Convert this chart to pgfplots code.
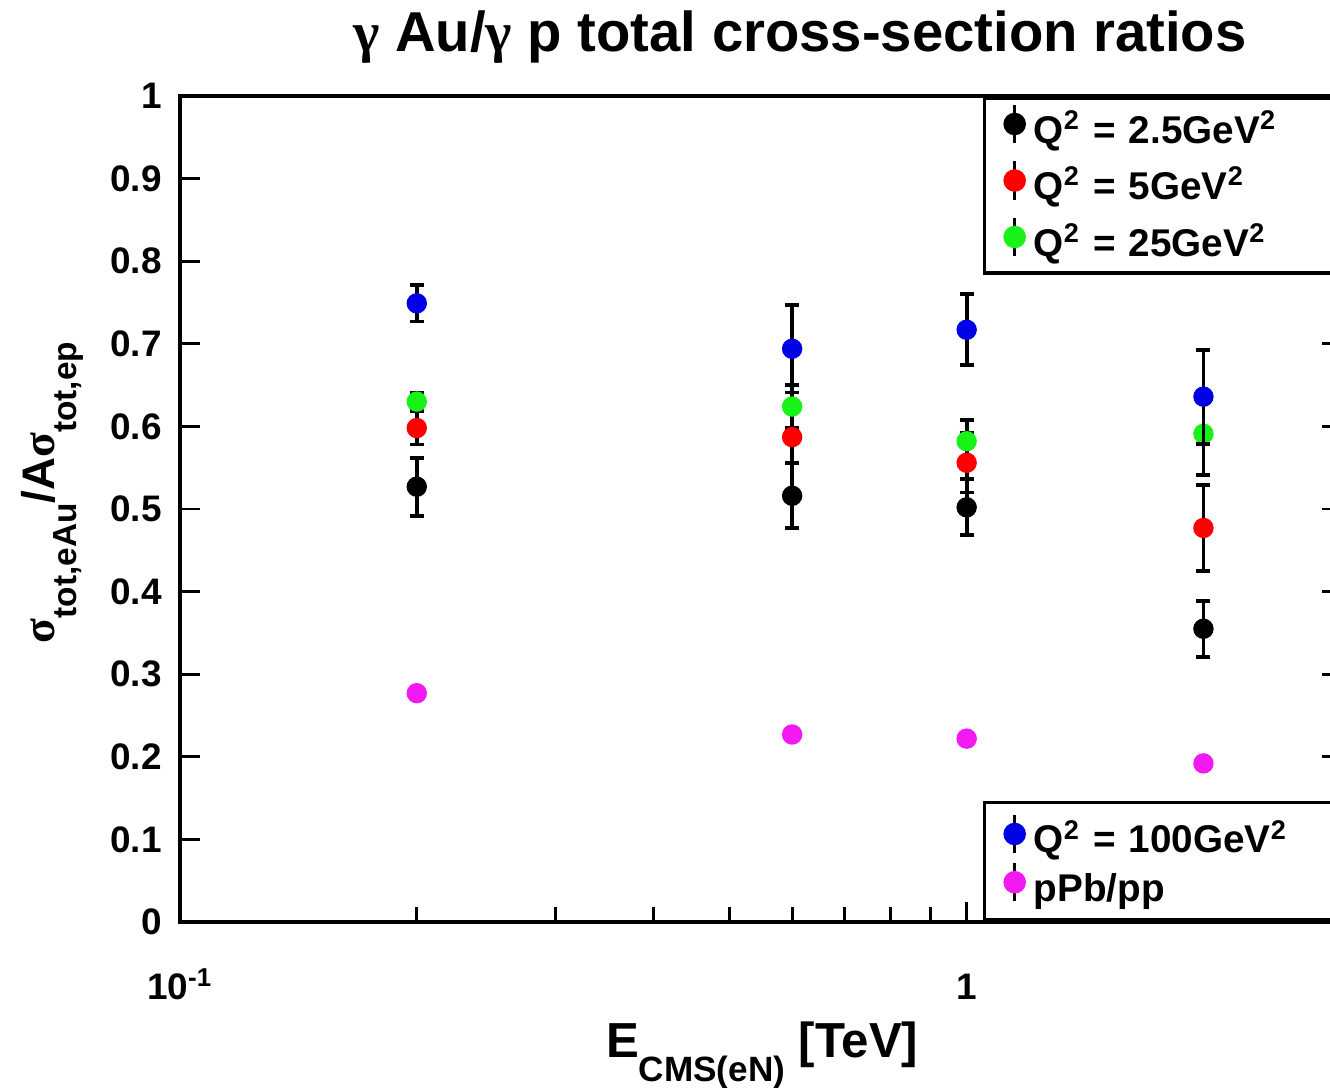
\documentclass[border=0pt]{standalone}
\usepackage{pgfplots}
\usepackage{pgfplotstable}
\pgfplotsset{compat=1.18}
\usepackage{fontspec}
\setmainfont{Liberation Sans}
\newfontfamily\grk{Liberation Serif}

\definecolor{cgreen}{rgb}{0.1,0.95,0.1}
\definecolor{cblue}{rgb}{0,0,0.9}
\definecolor{cmag}{rgb}{0.95,0.1,0.95}

\pgfplotstableread{
x y e
0.2 0.527 0.035
0.6 0.516 0.039
1.0 0.502 0.034
2.0 0.355 0.034
}\qa
\pgfplotstableread{
x y e
0.2 0.598 0.020
0.6 0.587 0.031
1.0 0.556 0.036
2.0 0.477 0.052
}\qb
\pgfplotstableread{
x y e
0.2 0.630 0.010
0.6 0.624 0.026
1.0 0.582 0.026
2.0 0.591 0.050
}\qc
\pgfplotstableread{
x y e
0.2 0.749 0.022
0.6 0.694 0.053
1.0 0.717 0.043
2.0 0.636 0.057
}\qd
\pgfplotstableread{
x y
0.2 0.277
0.6 0.227
1.0 0.222
2.0 0.192
}\qe

\begin{document}
\begin{tikzpicture}
\useasboundingbox (0,0) rectangle (13.3cm,10.88cm);
\begin{axis}[
  at={(1.80cm,1.66cm)}, anchor=south west,
  scale only axis, width=11.62cm, height=8.26cm,
  xmode=log, xmin=0.1, xmax=3, ymin=0, ymax=1,
  legend image code/.code={
    \path[draw=none, fill=none] (0cm,0.05cm) -- (0.45cm,0.05cm);
    \draw[black, line width=1pt] (0.30cm,-0.14cm) -- (0.30cm,0.24cm);
    \fill (0.30cm,0.05cm) circle (0.095cm);
  },
  legend cell align=left,
  axis line style={line width=0.9pt},
  xtick={0.1,1}, xticklabels={10\textsuperscript{-1},1},
  minor xtick={0.2,0.3,0.4,0.5,0.6,0.7,0.8,0.9,2,3},
  xtick pos=bottom,
  ytick={0,0.1,0.2,0.3,0.4,0.5,0.6,0.7,0.8,0.9,1},
  yticklabels={0,0.1,0.2,0.3,0.4,0.5,0.6,0.7,0.8,0.9,1},
  major tick length=0.2cm, minor tick length=0.15cm,
  tick style={black, line width=0.8pt},
  tick label style={font=\bfseries\fontsize{10.5}{12}\selectfont},
  xticklabel style={anchor=base, yshift=-0.78cm},
  yticklabel style={xshift=-0.06cm},
  title={{\grk\bfseries γ} Au/{\grk\bfseries γ} p total cross-section ratios},
  title style={at={(axis description cs:0.5336,1)}, anchor=base, yshift=0.23cm,
    font=\bfseries\fontsize{16}{18}\selectfont},
  xlabel={E\raisebox{-0.24cm}{\fontsize{10}{12}\selectfont CMS(eN)} [TeV]},
  xlabel style={at={(axis description cs:0.501,0)}, anchor=base, yshift=-1.36cm,
    font=\bfseries\fontsize{14}{16}\selectfont},
  ylabel={{\grk σ}\raisebox{-0.22cm}{\fontsize{9.5}{11}\selectfont tot,eAu}/A{\grk σ}\raisebox{-0.22cm}{\fontsize{9.5}{11}\selectfont tot,ep}},
  ylabel style={at={(axis description cs:-0.1084,0.52)}, anchor=base,
    font=\bfseries\fontsize{13}{15}\selectfont},
  legend style={at={(rel axis cs:0.691,1)}, anchor=north west,
    draw=black, line width=1pt, inner xsep=0pt, inner ysep=0.03cm,
    font=\bfseries\fontsize{11}{13}\selectfont,
    nodes={text width=3.2cm, text height=0.4225cm, text depth=0.1425cm, inner ysep=0cm, inner xsep=0.04cm}},
]
\addplot[only marks, mark=*, mark size=0.095cm, color=black, mark options={fill=black, draw=black},
  error bars/.cd, y dir=both, y explicit,
  error bar style={black, line width=1.1pt},
  error mark options={black, rotate=90, mark size=0.07cm, line width=1.1pt}]
  table[x=x, y=y, y error=e] {\qa};
\addlegendentry{Q\textsuperscript{2} = 2.5GeV\textsuperscript{2}}
\addplot[only marks, mark=*, mark size=0.095cm, color=red, mark options={fill=red, draw=red},
  error bars/.cd, y dir=both, y explicit,
  error bar style={black, line width=1.1pt},
  error mark options={black, rotate=90, mark size=0.07cm, line width=1.1pt}]
  table[x=x, y=y, y error=e] {\qb};
\addlegendentry{Q\textsuperscript{2} = 5GeV\textsuperscript{2}}
\addplot[only marks, mark=*, mark size=0.095cm, color=cgreen, mark options={fill=cgreen, draw=cgreen},
  error bars/.cd, y dir=both, y explicit,
  error bar style={black, line width=1.1pt},
  error mark options={black, rotate=90, mark size=0.07cm, line width=1.1pt}]
  table[x=x, y=y, y error=e] {\qc};
\addlegendentry{Q\textsuperscript{2} = 25GeV\textsuperscript{2}}
\end{axis}
\begin{axis}[
  at={(1.80cm,1.66cm)}, anchor=south west,
  scale only axis, width=11.62cm, height=8.26cm,
  xmode=log, xmin=0.1, xmax=3, ymin=0, ymax=1,
  hide axis,
  legend image code/.code={
    \path[draw=none, fill=none] (0cm,0.05cm) -- (0.45cm,0.05cm);
    \draw[black, line width=1pt] (0.30cm,-0.14cm) -- (0.30cm,0.24cm);
    \fill (0.30cm,0.05cm) circle (0.095cm);
  },
  legend cell align=left,
  legend style={at={(rel axis cs:0.691,0)}, anchor=south west,
    draw=black, line width=1pt, inner xsep=0pt, inner ysep=0.105cm,
    font=\bfseries\fontsize{11}{13}\selectfont,
    nodes={text width=3.2cm, text height=0.365cm, text depth=0.085cm, inner ysep=0cm, inner xsep=0.04cm}},
]
\addplot[only marks, mark=*, mark size=0.095cm, color=cblue, mark options={fill=cblue, draw=cblue},
  error bars/.cd, y dir=both, y explicit,
  error bar style={black, line width=1.1pt},
  error mark options={black, rotate=90, mark size=0.07cm, line width=1.1pt}]
  table[x=x, y=y, y error=e] {\qd};
\addlegendentry{Q\textsuperscript{2} = 100GeV\textsuperscript{2}}
\addplot[only marks, mark=*, mark size=0.095cm, color=cmag, mark options={fill=cmag, draw=cmag}]
  table[x=x, y=y] {\qe};
\addlegendentry{pPb/pp}
\end{axis}
\end{tikzpicture}
\end{document}
